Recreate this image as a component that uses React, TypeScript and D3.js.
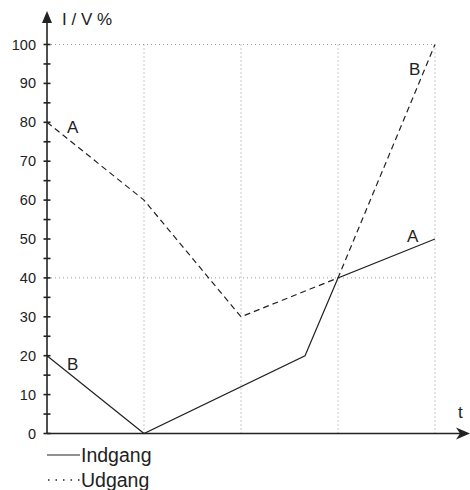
import React from "react";
import * as d3 from "d3";

const tValues = [0, 1, 2, 3, 4];
const indgangT = [0, 1, 2.66, 3, 4];
const indgangV = [20, 0, 20, 40, 50];
const udgangT = [0, 1, 2, 3, 4];
const udgangV = [80, 60, 30, 40, 100];
const yTickLabels = [0, 10, 20, 30, 40, 50, 60, 70, 80, 90, 100];
const yMinorTicks = [5, 15, 25, 35, 45, 55, 65, 75, 85, 95];
const hGrid = [40, 100];
const vGrid = [1, 2, 3, 4];
const legendLabels = ["Indgang", "Udgang"];
const yAxisTitle = "I / V %";
const xAxisTitle = "t";

export default function App() {
  const x = d3.scaleLinear().domain([0, 4]).range([47, 435]);
  const y = d3.scaleLinear().domain([0, 100]).range([433.5, 44.5]);
  const line = d3
    .line<[number, number]>()
    .x((d) => x(d[0]))
    .y((d) => y(d[1]));
  const inPts: [number, number][] = indgangT.map((t, i) => [t, indgangV[i]]);
  const outPts: [number, number][] = udgangT.map((t, i) => [t, udgangV[i]]);
  const font = "'Liberation Sans', Arial, sans-serif";
  const ink = "#222";
  const gridColor = "#999";
  const x0 = x(0);
  const y0 = y(0);
  return (
    <svg
      width={470}
      height={490}
      style={{ position: "absolute", left: 0, top: 0, background: "#fff" }}
      fontFamily={font}
    >
      {/* grid */}
      {hGrid.map((v) => (
        <line
          key={"h" + v}
          x1={x0}
          x2={x(4)}
          y1={y(v)}
          y2={y(v)}
          stroke={gridColor}
          strokeWidth={1}
          strokeDasharray="1,3"
        />
      ))}
      {vGrid.map((t) => (
        <line
          key={"v" + t}
          x1={x(t)}
          x2={x(t)}
          y1={y(0)}
          y2={y(100)}
          stroke={gridColor}
          strokeWidth={1}
          strokeDasharray="1,3"
        />
      ))}
      {/* axes */}
      <line x1={x0} x2={x0} y1={y0} y2={20} stroke={ink} strokeWidth={1.6} />
      <path d={`M${x0},11 L${x0 - 5},23 L${x0 + 5},23 Z`} fill={ink} />
      <line x1={x0} x2={460} y1={y0} y2={y0} stroke={ink} strokeWidth={1.6} />
      <path d={`M470,${y0} L456,${y0 - 6} L460,${y0} L456,${y0 + 6} Z`} fill={ink} />
      {yTickLabels.map((v) => (
        <g key={"t" + v}>
          <line x1={x0 - 3.5} x2={x0 + 3.5} y1={y(v)} y2={y(v)} stroke={ink} strokeWidth={1.6} />
          <text x={36} y={y(v)} dy="0.35em" textAnchor="end" fontSize={14.5} fill={ink}>
            {v}
          </text>
        </g>
      ))}
      {yMinorTicks.map((v) => (
        <line key={"m" + v} x1={x0 - 3.5} x2={x0 + 3.5} y1={y(v)} y2={y(v)} stroke={ink} strokeWidth={1.6} />
      ))}
      <text x={62} y={25} fontSize={17} fill={ink}>
        {yAxisTitle}
      </text>
      <text x={458} y={418} fontSize={17} fill={ink}>
        {xAxisTitle}
      </text>
      {/* data */}
      <path d={line(outPts) || ""} fill="none" stroke={ink} strokeWidth={1.2} strokeDasharray="6,4" />
      <path d={line(inPts) || ""} fill="none" stroke={ink} strokeWidth={1.2} />
      {/* curve labels */}
      <text x={67} y={133} fontSize={17} fill={ink}>A</text>
      <text x={67} y={370} fontSize={17} fill={ink}>B</text>
      <text x={409} y={75} fontSize={17} fill={ink}>B</text>
      <text x={407} y={242} fontSize={17} fill={ink}>A</text>
      {/* legend */}
      <line x1={47} x2={80} y1={455} y2={455} stroke={ink} strokeWidth={1.2} />
      <text x={81} y={462} fontSize={19.5} fill={ink}>{legendLabels[0]}</text>
      <line x1={48} x2={80} y1={480} y2={480} stroke={ink} strokeWidth={1.4} strokeDasharray="1.5,6" />
      <text x={81} y={487} fontSize={19.5} fill={ink}>{legendLabels[1]}</text>
    </svg>
  );
}
